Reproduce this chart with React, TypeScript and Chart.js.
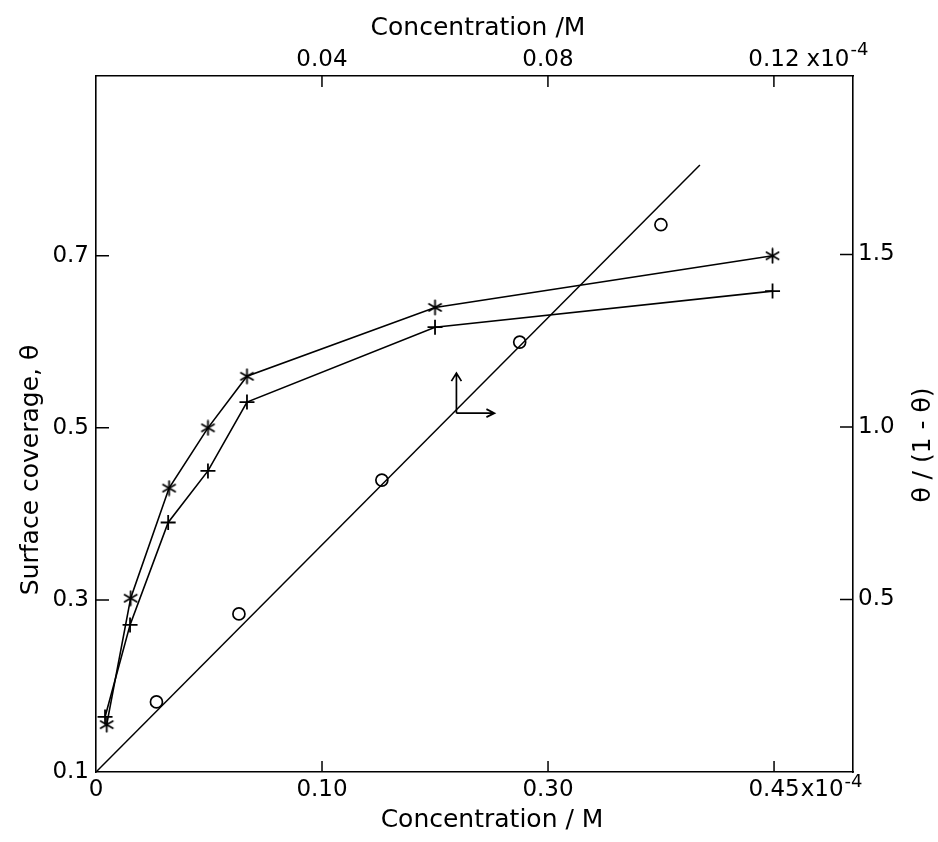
import React, { useEffect, useRef } from 'react';
import { Chart, registerables } from 'chart.js';

Chart.register(...registerables);

// ---------- data ----------
// bottom axis: concentration (units of the lower scale), left axis: surface coverage θ
const starConc = [0.0071, 0.023, 0.0485, 0.0743, 0.1002, 0.225, 0.449];
const starTheta = [0.155, 0.302, 0.43, 0.5, 0.56, 0.64, 0.7];
const plusConc = [0.006, 0.0226, 0.0479, 0.0743, 0.1002, 0.225, 0.449];
const plusTheta = [0.164, 0.271, 0.39, 0.45, 0.53, 0.617, 0.659];
// top axis: concentration (upper scale), right axis: θ/(1-θ)
const circleConc = [0.0107, 0.0253, 0.0506, 0.075, 0.1];
const circleRatio = [0.203, 0.458, 0.846, 1.246, 1.586];
const fitConc = [0, 0.1069];
const fitRatio = [0, 1.759];
// arrow annotation anchor (top / right axes)
const arrowConc = [0.0638];
const arrowRatio = [1.04];

// tick values and labels
const bottomTicks = [0, 0.15, 0.3, 0.45];
const bottomLabels = ['0', '0.10', '0.30', '0.45'];
const topTicks = [0.04, 0.08, 0.12];
const topLabels = ['0.04', '0.08', '0.12'];
const leftTicks = [0.1, 0.3, 0.5, 0.7];
const leftLabels = ['0.1', '0.3', '0.5', '0.7'];
const rightTicks = [0.5, 1.0, 1.5];
const rightLabels = ['0.5', '1.0', '1.5'];
const exponentSuffix = 'x10';
const exponentSup = '-4';

const titleTop = 'Concentration /M';
const titleBottom = 'Concentration / M';
const titleLeft = 'Surface coverage, θ';
const titleRight = 'θ / (1 - θ)';

const FAMILY = '"DejaVu Sans", sans-serif';
const TICK_FONT = 23;
const TITLE_FONT = 25;
const TICK_LEN = 11;

export default function App() {
  const ref = useRef<HTMLCanvasElement>(null);

  useEffect(() => {
    const canvas = ref.current;
    if (!canvas) return;

    // asterisk marker
    const starImg = document.createElement('canvas');
    starImg.width = 17;
    starImg.height = 17;
    const sc = starImg.getContext('2d')!;
    sc.strokeStyle = '#000';
    sc.lineWidth = 1.8;
    sc.lineCap = 'round';
    const c = 8.5;
    const r = 7;
    sc.beginPath();
    for (const a of [90, 30, 150]) {
      const rad = (a * Math.PI) / 180;
      sc.moveTo(c - r * Math.cos(rad), c - r * Math.sin(rad));
      sc.lineTo(c + r * Math.cos(rad), c + r * Math.sin(rad));
    }
    sc.stroke();

    const decorPlugin = {
      id: 'decor',
      afterDraw(chart: any) {
        const ctx: CanvasRenderingContext2D = chart.ctx;
        const { x, y, x2, y2 } = chart.scales;
        const area = chart.chartArea;
        ctx.save();
        ctx.strokeStyle = '#000';
        ctx.fillStyle = '#000';
        ctx.lineWidth = 1.5;
        // inward tick marks
        ctx.beginPath();
        bottomTicks.forEach((v) => {
          if (v === 0) return;
          const px = x.getPixelForValue(v);
          ctx.moveTo(px, area.bottom);
          ctx.lineTo(px, area.bottom - TICK_LEN);
        });
        topTicks.forEach((v) => {
          const px = x2.getPixelForValue(v);
          ctx.moveTo(px, area.top);
          ctx.lineTo(px, area.top + TICK_LEN);
        });
        leftTicks.forEach((v) => {
          const py = y.getPixelForValue(v);
          if (Math.abs(py - area.bottom) < 1) return;
          ctx.moveTo(area.left, py);
          ctx.lineTo(area.left + TICK_LEN + 2, py);
        });
        rightTicks.forEach((v) => {
          const py = y2.getPixelForValue(v);
          ctx.moveTo(area.right, py);
          ctx.lineTo(area.right - TICK_LEN - 2, py);
        });
        ctx.stroke();

        // exponent suffixes on last ticks
        const lh = TICK_FONT * 1.2;
        ctx.textBaseline = 'middle';
        ctx.textAlign = 'left';
        // bottom
        {
          const v = bottomTicks[bottomTicks.length - 1];
          const lbl = bottomLabels[bottomLabels.length - 1];
          ctx.font = `${TICK_FONT}px ${FAMILY}`;
          const w = ctx.measureText(lbl).width;
          const px = x.getPixelForValue(v) + w / 2 + 1;
          const py = area.bottom + 4 + lh / 2;
          ctx.fillText(exponentSuffix, px, py);
          const w2 = ctx.measureText(exponentSuffix).width;
          ctx.font = `${TICK_FONT - 5}px ${FAMILY}`;
          ctx.fillText(exponentSup, px + w2 + 1, py - 7);
        }
        // top
        {
          const v = topTicks[topTicks.length - 1];
          const lbl = topLabels[topLabels.length - 1];
          ctx.font = `${TICK_FONT}px ${FAMILY}`;
          const w = ctx.measureText(lbl).width;
          const px = x2.getPixelForValue(v) + w / 2 + 7;
          const py = area.top - 2 - lh / 2;
          ctx.fillText(exponentSuffix, px, py);
          const w2 = ctx.measureText(exponentSuffix).width;
          ctx.font = `${TICK_FONT - 5}px ${FAMILY}`;
          ctx.fillText(exponentSup, px + w2 + 1, py - 10);
        }

        // arrow annotation
        const ax = x2.getPixelForValue(arrowConc[0]);
        const ay = y2.getPixelForValue(arrowRatio[0]);
        ctx.lineWidth = 1.7;
        ctx.beginPath();
        ctx.moveTo(ax, ay);
        ctx.lineTo(ax, ay - 40);
        ctx.moveTo(ax - 5, ay - 32);
        ctx.lineTo(ax, ay - 40);
        ctx.lineTo(ax + 5, ay - 32);
        ctx.moveTo(ax, ay);
        ctx.lineTo(ax + 38, ay);
        ctx.moveTo(ax + 30, ay - 4);
        ctx.lineTo(ax + 38, ay);
        ctx.lineTo(ax + 30, ay + 4);
        ctx.stroke();

        // axis titles
        ctx.font = `${TITLE_FONT}px ${FAMILY}`;
        ctx.textAlign = 'center';
        ctx.textBaseline = 'middle';
        ctx.fillText(titleTop, 478, 28);
        ctx.fillText(titleBottom, 492, 820);
        ctx.save();
        ctx.translate(31, 470);
        ctx.rotate(-Math.PI / 2);
        ctx.fillText(titleLeft, 0, 0);
        ctx.restore();
        ctx.save();
        ctx.translate(923, 445);
        ctx.rotate(-Math.PI / 2);
        ctx.fillText(titleRight, 0, 0);
        ctx.restore();
        ctx.restore();
      },
    };

    const tickFont = { family: FAMILY, size: TICK_FONT };
    const hiddenGrid = { display: true, drawOnChartArea: false, drawTicks: false, tickLength: 0, color: 'rgba(0,0,0,0)' };
    const border = { display: true, color: '#000', width: 1.6 };

    const chart = new Chart(canvas, {
      type: 'scatter',
      data: {
        datasets: [
          {
            data: starConc.map((v, i) => ({ x: v, y: starTheta[i] })),
            xAxisID: 'x',
            yAxisID: 'y',
            showLine: true,
            borderColor: '#000',
            borderWidth: 1.6,
            pointStyle: starImg as any,
            pointRadius: 7,
          },
          {
            data: plusConc.map((v, i) => ({ x: v, y: plusTheta[i] })),
            xAxisID: 'x',
            yAxisID: 'y',
            showLine: true,
            borderColor: '#000',
            borderWidth: 1.6,
            pointStyle: 'cross',
            pointRadius: 7.5,
            pointBorderWidth: 1.8,
            pointBorderColor: '#000',
          },
          {
            data: circleConc.map((v, i) => ({ x: v, y: circleRatio[i] })),
            xAxisID: 'x2',
            yAxisID: 'y2',
            showLine: false,
            pointStyle: 'circle',
            pointRadius: 6,
            pointBorderWidth: 1.7,
            pointBorderColor: '#000',
            pointBackgroundColor: 'rgba(0,0,0,0)',
          },
          {
            data: fitConc.map((v, i) => ({ x: v, y: fitRatio[i] })),
            xAxisID: 'x2',
            yAxisID: 'y2',
            showLine: true,
            borderColor: '#000',
            borderWidth: 1.5,
            pointRadius: 0,
          },
        ],
      },
      options: {
        animation: false,
        responsive: false,
        devicePixelRatio: 1,
        layout: { padding: 0 },
        plugins: { legend: { display: false }, tooltip: { enabled: false } },
        scales: {
          x: {
            type: 'linear',
            position: 'bottom',
            min: 0,
            max: 0.5024,
            afterBuildTicks: (s: any) => {
              s.ticks = bottomTicks.map((v) => ({ value: v }));
            },
            afterFit: (s: any) => {
              s.height = 70;
            },
            ticks: {
              autoSkip: false,
              maxRotation: 0,
              padding: 4,
              color: '#000',
              font: tickFont,
              callback: (_v: any, i: number) => bottomLabels[i],
            },
            grid: hiddenGrid,
            border,
          },
          x2: {
            type: 'linear',
            position: 'top',
            min: 0,
            max: 0.134,
            afterBuildTicks: (s: any) => {
              s.ticks = topTicks.map((v) => ({ value: v }));
            },
            afterFit: (s: any) => {
              s.height = 76;
            },
            ticks: {
              autoSkip: false,
              maxRotation: 0,
              padding: 2,
              color: '#000',
              font: tickFont,
              callback: (_v: any, i: number) => topLabels[i],
            },
            grid: hiddenGrid,
            border,
          },
          y: {
            type: 'linear',
            position: 'left',
            min: 0.1,
            max: 0.909,
            afterBuildTicks: (s: any) => {
              s.ticks = leftTicks.map((v) => ({ value: v }));
            },
            afterFit: (s: any) => {
              s.width = 96;
            },
            ticks: {
              autoSkip: false,
              padding: 7,
              color: '#000',
              font: tickFont,
              callback: (_v: any, i: number) => leftLabels[i],
            },
            grid: hiddenGrid,
            border,
          },
          y2: {
            type: 'linear',
            position: 'right',
            min: 0,
            max: 2.017,
            afterBuildTicks: (s: any) => {
              s.ticks = rightTicks.map((v) => ({ value: v }));
            },
            afterFit: (s: any) => {
              s.width = 85;
            },
            ticks: {
              autoSkip: false,
              padding: 5,
              color: '#000',
              font: tickFont,
              callback: (_v: any, i: number) => rightLabels[i],
            },
            grid: hiddenGrid,
            border,
          },
        },
      } as any,
      plugins: [decorPlugin],
    });

    return () => {
      chart.destroy();
    };
  }, []);

  return (
    <div style={{ position: 'absolute', left: 0, top: 0, width: 938, height: 842, background: '#fff' }}>
      <canvas ref={ref} width={938} height={842} style={{ display: 'block', width: 938, height: 842 }} />
    </div>
  );
}
